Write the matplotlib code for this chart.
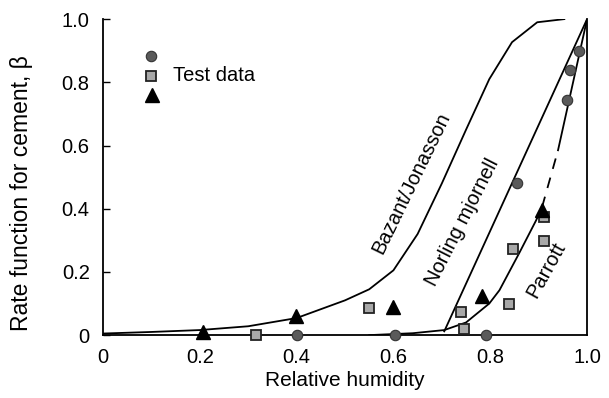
#!/usr/bin/env python3
"""Rate function for cement vs relative humidity, with test data."""

import matplotlib
matplotlib.use("Agg")
import matplotlib.pyplot as plt

plt.rcParams['font.family'] = ['Liberation Sans', 'DejaVu Sans']

# Model curves
bazant_x = [0.0, 0.1, 0.2, 0.3, 0.4, 0.5, 0.55, 0.60, 0.65, 0.70, 0.75, 0.798, 0.845, 0.897, 0.953]
bazant_y = [0.005, 0.01, 0.016, 0.028, 0.054, 0.11, 0.145, 0.205, 0.32, 0.48, 0.65, 0.81, 0.927, 0.99, 1.0]

norling_x = [0.705, 1.0]
norling_y = [0.012, 1.0]

parrott_x = [0.55, 0.64, 0.705, 0.75, 0.798, 0.819, 0.86, 0.895, 0.907]
parrott_y = [0.0, 0.006, 0.016, 0.04, 0.10, 0.142, 0.26, 0.364, 0.405]
parrott_dash_x = [0.907, 0.94]
parrott_dash_y = [0.405, 0.585]
parrott_top_x = [0.94, 1.0]
parrott_top_y = [0.585, 1.0]

# Test data
circle_x = [0.40, 0.604, 0.792, 0.856, 0.959, 0.964, 0.983]
circle_y = [0.0, 0.0, 0.0, 0.481, 0.744, 0.839, 0.899]

square_x = [0.317, 0.55, 0.74, 0.746, 0.839, 0.846, 0.911, 0.911]
square_y = [0.0, 0.085, 0.073, 0.019, 0.098, 0.272, 0.297, 0.373]

triangle_x = [0.206, 0.398, 0.60, 0.783, 0.907]
triangle_y = [0.01, 0.06, 0.09, 0.125, 0.395]

ticks = [0, 0.2, 0.4, 0.6, 0.8, 1.0]
tick_labels = ['0', '0.2', '0.4', '0.6', '0.8', '1.0']


def main():
    fig = plt.figure(figsize=(6.09, 3.98), dpi=100)
    ax = fig.add_axes([0.169, 0.158, 0.795, 0.794])

    lw = 1.3
    ax.plot(bazant_x, bazant_y, color='black', lw=lw)
    ax.plot(norling_x, norling_y, color='black', lw=lw)
    ax.plot(parrott_x, parrott_y, color='black', lw=lw)
    ax.plot(parrott_dash_x, parrott_dash_y, color='black', lw=lw, dashes=(6, 5))
    ax.plot(parrott_top_x, parrott_top_y, color='black', lw=lw)

    circ = dict(marker='o', ms=7.5, mfc='#5a5a5a', mec='#333333', mew=0.8, ls='none')
    sq = dict(marker='s', ms=7.5, mfc='#a8a8a8', mec='#222222', mew=1.3, ls='none')
    tri = dict(marker='^', ms=10, mfc='black', mec='black', ls='none')

    ax.plot(circle_x, circle_y, clip_on=False, zorder=5, **circ)
    ax.plot(square_x, square_y, clip_on=False, zorder=5, **sq)
    ax.plot(triangle_x, triangle_y, clip_on=False, zorder=6, **tri)

    # hand-made legend
    ax.plot([0.099], [0.883], **circ)
    ax.plot([0.099], [0.82], **sq)
    ax.plot([0.102], [0.76], **tri)
    ax.text(0.144, 0.82, 'Test data', fontsize=14.5, va='center', ha='left')

    # curve labels
    ax.text(0.638, 0.48, 'Bazant/Jonasson', fontsize=14.5, rotation=64,
            ha='center', va='center')
    ax.text(0.742, 0.357, 'Norling mjornell', fontsize=14.5, rotation=63,
            ha='center', va='center')
    ax.text(0.915, 0.206, 'Parrott', fontsize=14.5, rotation=61,
            ha='center', va='center')

    ax.set_xlim(0, 1.0)
    ax.set_ylim(0, 1.0)
    ax.set_xticks(ticks)
    ax.set_xticklabels(tick_labels)
    ax.set_yticks(ticks)
    ax.set_yticklabels(tick_labels)
    ax.tick_params(axis='y', direction='in', length=5, width=1, pad=9.5, labelsize=14.5)
    ax.tick_params(axis='x', length=0, pad=9, labelsize=14.5)

    ax.spines['top'].set_visible(False)
    for s in ('left', 'bottom', 'right'):
        ax.spines[s].set_linewidth(1.3)

    ax.set_xlabel('Relative humidity', fontsize=15, labelpad=3)
    ax.set_ylabel('Rate function for cement, \u03b2', fontsize=16.5)
    ax.yaxis.set_label_coords(-0.144, 0.449)

    fig.savefig('out.png', dpi=100)


if __name__ == "__main__":
    main()
